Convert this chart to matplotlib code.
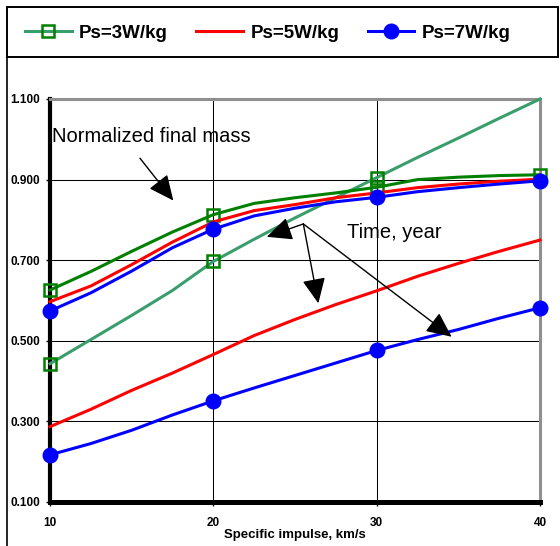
import matplotlib
matplotlib.use("Agg")
import matplotlib.pyplot as plt
from matplotlib.lines import Line2D
from matplotlib.patches import Rectangle, ArrowStyle

plt.rcParams['font.family'] = ['Liberation Sans', 'DejaVu Sans']

isp = [10, 12.5, 15, 17.5, 20, 22.5, 25, 27.5, 30, 32.5, 35, 37.5, 40]

# Normalized final mass
mass_3 = [0.626, 0.672, 0.722, 0.770, 0.813, 0.841, 0.855, 0.867, 0.881, 0.900, 0.906, 0.910, 0.912]
mass_5 = [0.597, 0.636, 0.689, 0.745, 0.795, 0.823, 0.838, 0.855, 0.867, 0.880, 0.889, 0.896, 0.901]
mass_7 = [0.574, 0.619, 0.673, 0.731, 0.777, 0.810, 0.829, 0.845, 0.856, 0.870, 0.880, 0.889, 0.897]

# Time, year
time_3 = [0.443, 0.503, 0.563, 0.625, 0.697, 0.752, 0.805, 0.855, 0.905, 0.955, 1.003, 1.052, 1.100]
time_5 = [0.287, 0.330, 0.377, 0.420, 0.466, 0.513, 0.553, 0.590, 0.624, 0.660, 0.692, 0.722, 0.750]
time_7 = [0.217, 0.245, 0.278, 0.316, 0.351, 0.383, 0.414, 0.445, 0.476, 0.503, 0.528, 0.556, 0.582]

labels = ["Ps=3W/kg", "Ps=5W/kg", "Ps=7W/kg"]
x_ticks = [10, 20, 30, 40]
y_ticks = [0.1, 0.3, 0.5, 0.7, 0.9, 1.1]
y_ticklabels = ["0.100", "0.300", "0.500", "0.700", "0.900", "1.100"]

teal = "#3A9E6C"
dgreen = "#008000"
marks = [0, 4, 8, 12]
marks_t3 = [0, 4, 8]

fig = plt.figure(figsize=(5.6, 5.46), dpi=100)
ax = fig.add_axes([50/560, 1-502/546, 490/560, 403/546])

lw = 2.2
sq = dict(marker='s', markersize=8.5, markerfacecolor='none', markeredgecolor=dgreen,
          markeredgewidth=1.8)
ci = dict(marker='o', markersize=10.5, markerfacecolor='#0000FF', markeredgecolor='#0000FF',
          markevery=marks)

l3, = ax.plot(isp, time_3, color=teal, lw=lw, label=labels[0], clip_on=False, zorder=3,
              markevery=marks_t3, **sq)
l5, = ax.plot(isp, time_5, color='#FF0000', lw=lw, label=labels[1], clip_on=False, zorder=3)
l7, = ax.plot(isp, time_7, color='#0000FF', lw=lw, label=labels[2], clip_on=False, zorder=3, **ci)
ax.plot(isp, mass_3, color=dgreen, lw=lw, clip_on=False, zorder=3, markevery=marks, **sq)
ax.plot(isp, mass_5, color='#FF0000', lw=lw, clip_on=False, zorder=3)
ax.plot(isp, mass_7, color='#0000FF', lw=lw, clip_on=False, zorder=3, **ci)

ax.set_xlim(10, 40)
ax.set_ylim(0.1, 1.1)
ax.set_xticks(x_ticks)
ax.set_xticklabels([str(v) for v in x_ticks], fontsize=8.5, fontweight='bold')
ax.set_yticks(y_ticks)
ax.set_yticklabels(y_ticklabels, fontsize=8.5, fontweight='bold')
ax.tick_params(axis='both', direction='out', length=3, width=1, color='black', pad=4)
ax.tick_params(axis='x', pad=8)
ax.grid(True, color='black', lw=0.75, zorder=1)
ax.set_axisbelow(True)

ax.spines['left'].set_linewidth(3.0)
ax.spines['left'].set_color('black')
ax.spines['bottom'].set_linewidth(3.6)
ax.spines['bottom'].set_color('black')
for s in ['top', 'right']:
    ax.spines[s].set_linewidth(2.2)
    ax.spines[s].set_color('#909090')

ax.set_xlabel("Specific impulse, km/s", fontsize=9.5, fontweight='bold', labelpad=0)

# annotations
ax.text(10.12, 0.994, "Normalized final mass", fontsize=14.5, va='baseline', ha='left')
ax.text(28.17, 0.756, "Time, year", fontsize=14.5, va='baseline', ha='left')
style = ArrowStyle('-|>', head_length=0.65, head_width=0.3)
ap = dict(arrowstyle=style, mutation_scale=24, color='black', lw=1.0, shrinkA=0, shrinkB=0)
ax.annotate("", xy=(17.55, 0.848), xytext=(15.51, 0.953), arrowprops=ap)
for tip in [(23.27, 0.758), (26.43, 0.593), (34.59, 0.510)]:
    ax.annotate("", xy=tip, xytext=(25.51, 0.790), arrowprops=ap)

# outer frame lines and legend box
fig.add_artist(Line2D([7/560, 7/560], [0, 1-57/546], color='black', lw=1.2))
fig.add_artist(Rectangle((7/560, 1-57/546), 551/560, 50/546, transform=fig.transFigure,
                         fill=False, edgecolor='black', lw=1.4))

leg = fig.legend(handles=[l3, l5, l7], labels=labels, loc='center left', ncol=3,
                 bbox_to_anchor=(21/560, 1-33/546), frameon=False,
                 borderaxespad=0, handlelength=2.5, columnspacing=1.5,
                 handletextpad=0.4, prop=dict(family='Liberation Sans', weight='bold', size=13.5),
                 borderpad=0.2)

fig.savefig("out.png", dpi=100)
